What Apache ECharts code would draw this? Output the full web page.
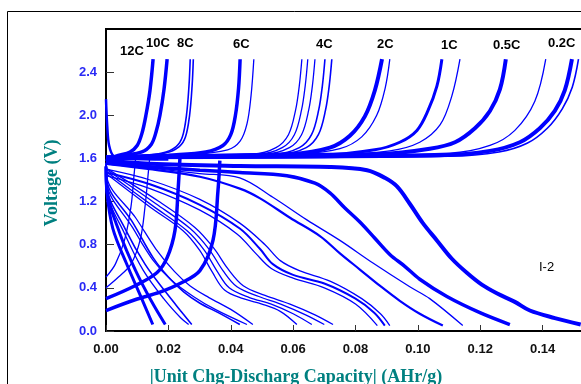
<!DOCTYPE html>
<html>
<head>
<meta charset="utf-8">
<script src="https://cdn.jsdelivr.net/npm/echarts@6/dist/echarts.min.js"></script>
<style>
html,body{margin:0;padding:0;background:#fff}
#chart{width:581px;height:384px}
</style>
</head>
<body>
<div id="chart"></div>
<script>
// tick labels
var xTicks = [0, 0.02, 0.04, 0.06, 0.08, 0.10, 0.12, 0.14, 0.16];
var yTicks = [0, 0.4, 0.8, 1.2, 1.6, 2.0, 2.4, 2.8];
var rateLabels = ['12C', '10C', '8C', '6C', '4C', '2C', '1C', '0.5C', '0.2C'];

// charge curves  [capacity AHr/g, voltage V]
var chg12C = [[0,1.57],[0.003,1.62],[0.0077,1.66],[0.0100,1.72],[0.0115,1.83],[0.0128,2.00],[0.0141,2.23],[0.0151,2.52]];
var chg10C = [[0,1.58],[0.0045,1.62],[0.0115,1.66],[0.0145,1.73],[0.0160,1.84],[0.0173,2.00],[0.0186,2.24],[0.0196,2.52]];
var chg8C = [[0,1.58],[0.0077,1.62],[0.0180,1.65],[0.0225,1.71],[0.0245,1.80],[0.0258,2.00],[0.0266,2.27],[0.0270,2.52]];
var chg8Cb = [[0,1.58],[0.0080,1.62],[0.0190,1.65],[0.0235,1.71],[0.0255,1.80],[0.0268,2.00],[0.0276,2.27],[0.0280,2.52]];
var chg6C = [[0,1.59],[0.0200,1.63],[0.0320,1.66],[0.0375,1.72],[0.0400,1.82],[0.0415,2.00],[0.0425,2.25],[0.0430,2.52]];
var chg6Cb = [[0,1.59],[0.0250,1.63],[0.0390,1.68],[0.0430,1.76],[0.0452,1.92],[0.0465,2.18],[0.0474,2.52]];
var chg4Ca = [[0,1.60],[0.0240,1.63],[0.0470,1.64],[0.0545,1.70],[0.0585,1.82],[0.0608,2.05],[0.0620,2.28],[0.0628,2.52]];
var chg4Cb = [[0,1.60],[0.0250,1.63],[0.0490,1.64],[0.0565,1.70],[0.0604,1.82],[0.0627,2.05],[0.0639,2.28],[0.0647,2.52]];
var chg4Cc = [[0,1.60],[0.0260,1.63],[0.0510,1.64],[0.0588,1.70],[0.0627,1.82],[0.0650,2.05],[0.0662,2.28],[0.0670,2.52]];
var chg4Cd = [[0,1.60],[0.0280,1.63],[0.0540,1.64],[0.0620,1.70],[0.0659,1.82],[0.0682,2.05],[0.0694,2.28],[0.0702,2.52]];
var chg4Ce = [[0,1.60],[0.0290,1.63],[0.0560,1.64],[0.0642,1.70],[0.0681,1.82],[0.0704,2.05],[0.0716,2.28],[0.0724,2.52]];
var chg2C = [[0,1.60],[0.0300,1.62],[0.0590,1.64],[0.0718,1.70],[0.0782,1.81],[0.0830,1.99],[0.0862,2.23],[0.0885,2.52]];
var chg2Cb = [[0,1.60],[0.0350,1.62],[0.0620,1.64],[0.0750,1.69],[0.0820,1.80],[0.0868,2.00],[0.0895,2.25],[0.0910,2.52]];
var chg1C = [[0,1.60],[0.0300,1.62],[0.0686,1.63],[0.0862,1.68],[0.0942,1.75],[0.0997,1.86],[0.1032,2.04],[0.1061,2.27],[0.1077,2.52]];
var chg1Cb = [[0,1.60],[0.0700,1.63],[0.0910,1.67],[0.1006,1.75],[0.1071,1.91],[0.1109,2.18],[0.1135,2.52]];
var chg05C = [[0,1.61],[0.0462,1.63],[0.0878,1.64],[0.1038,1.69],[0.1119,1.75],[0.1183,1.88],[0.1231,2.04],[0.1263,2.24],[0.1282,2.52]];
var chg05Cb = [[0,1.61],[0.1103,1.65],[0.1231,1.72],[0.1311,1.86],[0.1375,2.13],[0.1410,2.52]];
var chg02C = [[0,1.61],[0.0622,1.62],[0.1071,1.63],[0.1231,1.67],[0.1327,1.75],[0.1391,1.88],[0.1439,2.04],[0.1471,2.23],[0.1494,2.52]];
var chg02Cb = [[0,1.60],[0.1100,1.62],[0.1260,1.66],[0.1350,1.74],[0.1415,1.88],[0.1463,2.06],[0.1495,2.26],[0.1515,2.52]];
var chgFirst = [[0,2.15],[0.0004,1.90],[0.0010,1.72],[0.0025,1.62],[0.0060,1.60],[0.0200,1.59]];

// low-voltage start of charge
var rise6C = [[0,0.19],[0.0093,0.29],[0.0173,0.36],[0.0237,0.44],[0.0301,0.56],[0.0343,0.84],[0.0359,1.30],[0.0365,1.58]];
var rise8C = [[0,0.30],[0.0093,0.42],[0.0163,0.54],[0.0196,0.68],[0.0221,0.93],[0.0231,1.30],[0.0237,1.60]];
var rise10C = [[0,0.40],[0.0040,0.50],[0.0080,0.62],[0.0110,0.85],[0.0125,1.15],[0.0135,1.45],[0.0140,1.60]];
var rise12C = [[0,0.50],[0.0030,0.62],[0.0060,0.85],[0.0080,1.15],[0.0090,1.45],[0.0095,1.60]];

// discharge curves
var dis02C = [[0,1.58],[0.0141,1.55],[0.0429,1.53],[0.0718,1.52],[0.0837,1.49],[0.0894,1.42],[0.0933,1.34],[0.0974,1.18],[0.1016,1.00],[0.1061,0.84],[0.1109,0.67],[0.1157,0.54],[0.1205,0.43],[0.1253,0.35],[0.1311,0.27],[0.1359,0.19],[0.1439,0.12],[0.1522,0.06]];
var dis05C = [[0,1.56],[0.0150,1.52],[0.0301,1.49],[0.0429,1.47],[0.0580,1.44],[0.0670,1.37],[0.0718,1.28],[0.0766,1.14],[0.0814,1.01],[0.0862,0.86],[0.0910,0.71],[0.0958,0.60],[0.1006,0.48],[0.1093,0.32],[0.1199,0.17],[0.1295,0.06]];
var dis1C = [[0,1.55],[0.0141,1.50],[0.0301,1.43],[0.0429,1.32],[0.0494,1.23],[0.0590,1.05],[0.0686,0.88],[0.0750,0.72],[0.0814,0.57],[0.0878,0.42],[0.0942,0.28],[0.1006,0.16],[0.1080,0.05]];
var dis1Cb = [[0,1.55],[0.0173,1.50],[0.0301,1.46],[0.0429,1.42],[0.0535,1.24],[0.0644,1.03],[0.0750,0.84],[0.0856,0.63],[0.0974,0.41],[0.1038,0.30],[0.1144,0.05]];
var dis2C = [[0,1.47],[0.0141,1.36],[0.0301,1.17],[0.0429,0.95],[0.0494,0.76],[0.0535,0.62],[0.0600,0.52],[0.0700,0.44],[0.0800,0.30],[0.0860,0.17],[0.0894,0.05]];
var dis2Cb = [[0,1.50],[0.0141,1.40],[0.0301,1.22],[0.0429,1.00],[0.0510,0.80],[0.0560,0.65],[0.0620,0.56],[0.0720,0.46],[0.0820,0.30],[0.0880,0.16],[0.0910,0.05]];
var dis2Cc = [[0,1.44],[0.0141,1.32],[0.0301,1.12],[0.0420,0.90],[0.0480,0.72],[0.0530,0.58],[0.0600,0.49],[0.0700,0.40],[0.0800,0.25],[0.0870,0.05]];
var dis4Ca = [[0,1.46],[0.0141,1.15],[0.0247,0.93],[0.0300,0.75],[0.0340,0.55],[0.0380,0.38],[0.0440,0.30],[0.0500,0.25],[0.0560,0.18],[0.0612,0.06]];
var dis4Cb = [[0,1.48],[0.0150,1.16],[0.0260,0.93],[0.0315,0.75],[0.0355,0.56],[0.0395,0.40],[0.0460,0.31],[0.0530,0.25],[0.0600,0.16],[0.0660,0.06]];
var dis4Cc = [[0,1.50],[0.0160,1.18],[0.0270,0.95],[0.0330,0.76],[0.0375,0.56],[0.0420,0.41],[0.0490,0.32],[0.0560,0.25],[0.0640,0.15],[0.0700,0.06]];
var dis4Cd = [[0,1.51],[0.0170,1.20],[0.0285,0.96],[0.0345,0.77],[0.0390,0.58],[0.0440,0.42],[0.0510,0.33],[0.0590,0.25],[0.0670,0.15],[0.0728,0.06]];
var dis6Ca = [[0,1.56],[0.0003,1.39],[0.0087,1.00],[0.0151,0.68],[0.0200,0.50],[0.0250,0.36],[0.0300,0.26],[0.0360,0.17],[0.0429,0.06]];
var dis6Cb = [[0,1.56],[0.0003,1.42],[0.0095,1.05],[0.0160,0.76],[0.0220,0.55],[0.0269,0.42],[0.0330,0.31],[0.0400,0.20],[0.0471,0.06]];
var dis6Cc = [[0,1.55],[0.0003,1.36],[0.0085,0.96],[0.0150,0.66],[0.0210,0.47],[0.0280,0.32],[0.0350,0.20],[0.0452,0.06]];
var dis8Ca = [[0,1.55],[0.0003,1.33],[0.0061,0.95],[0.0125,0.62],[0.0189,0.37],[0.0247,0.16],[0.0275,0.06]];
var dis8Cb = [[0,1.54],[0.0003,1.30],[0.0060,0.90],[0.0120,0.56],[0.0185,0.30],[0.0240,0.12],[0.0265,0.06]];
var dis10C = [[0,1.53],[0.0003,1.30],[0.0045,0.90],[0.0095,0.56],[0.0145,0.28],[0.0190,0.06]];
var dis12C = [[0,1.52],[0.0003,1.28],[0.0022,0.95],[0.0065,0.63],[0.0110,0.33],[0.0150,0.06]];

var curves = [
  [chg12C, 3.5], [chg10C, 3.5], [chg8C, 1.6], [chg8Cb, 1.6], [chg6C, 3.5], [chg6Cb, 1.3],
  [chg4Ca, 1.3], [chg4Cb, 1.3], [chg4Cc, 1.3], [chg4Cd, 1.6], [chg4Ce, 1.6],
  [chg2C, 4], [chg2Cb, 1.3], [chg1C, 3], [chg1Cb, 1.3], [chg05C, 4], [chg05Cb, 1.3],
  [chg02C, 4], [chg02Cb, 1.6], [chgFirst, 2.5],
  [rise6C, 3.5], [rise8C, 3.5], [rise10C, 1.3], [rise12C, 1.3],
  [dis02C, 4], [dis05C, 3.5], [dis1C, 2.2], [dis1Cb, 1.3], [dis2C, 2], [dis2Cb, 1.3], [dis2Cc, 1.3],
  [dis4Ca, 1.3], [dis4Cb, 1.3], [dis4Cc, 1.3], [dis4Cd, 1.3],
  [dis6Ca, 1.6], [dis6Cb, 1.3], [dis6Cc, 1.3], [dis8Ca, 1.6], [dis8Cb, 1.3], [dis10C, 3], [dis12C, 3]
];

// label positions in px (left, middle)
var labelPos = [[120,52],[146,44],[177,44],[233,45],[316,45],[377,45],[441,46],[493,46],[548,44]];

var chart = echarts.init(document.getElementById('chart'));

var series = curves.map(function (c) {
  return {
    type: 'line',
    data: c[0],
    showSymbol: false,
    smooth: 0.35,
    clip: true,
    lineStyle: { color: '#0000ff', width: c[1] }
  };
});

var graphics = rateLabels.map(function (t, i) {
  return {
    type: 'text', left: labelPos[i][0], top: labelPos[i][1] - 7,
    style: { text: t, fill: '#000', font: 'bold 13px "Liberation Sans", Arial, sans-serif' }
  };
});
graphics.push({
  type: 'text', left: 539, top: 261,
  style: { text: 'I-2', fill: '#000', font: '13px "Liberation Sans", Arial, sans-serif' }
});
graphics.push({
  type: 'text', x: 52, y: 183, rotation: Math.PI / 2,
  style: { text: 'Voltage (V)', fill: '#008080', align: 'center', verticalAlign: 'middle',
    font: 'bold 18px "Liberation Serif", "Times New Roman", serif' }
});
graphics.push({
  type: 'text', x: 296, y: 368,
  style: { text: '|Unit Chg-Discharg Capacity| (AHr/g)', fill: '#008080', align: 'center', verticalAlign: 'top',
    font: 'bold 18px "Liberation Serif", "Times New Roman", serif' }
});
graphics.push({
  type: 'rect', shape: { x: 7.5, y: 11.5, width: 700, height: 500 },
  style: { fill: 'none', stroke: '#000', lineWidth: 1 }, silent: true
});

chart.setOption({
  animation: false,
  grid: { left: 106, top: 29, width: 499, bottom: 53, outerBoundsMode: 'none', containLabel: false,
    show: true, borderColor: '#000', borderWidth: 2 },
  xAxis: {
    type: 'value', min: xTicks[0], max: xTicks[xTicks.length - 1], interval: 0.02,
    axisLine: { show: true, lineStyle: { color: '#000', width: 2 } },
    axisTick: { show: true, inside: true, length: 6, lineStyle: { color: '#333' } },
    axisLabel: { color: '#111', fontWeight: 'bold', fontSize: 13, margin: 12,
      fontFamily: '"Liberation Sans", Arial, sans-serif',
      formatter: function (v) { return v.toFixed(2); } },
    splitLine: { show: false }
  },
  yAxis: {
    type: 'value', min: yTicks[0], max: yTicks[yTicks.length - 1], interval: 0.4,
    axisLine: { show: true, lineStyle: { color: '#000', width: 2 } },
    axisTick: { show: true, inside: true, length: 8, lineStyle: { color: '#333' } },
    axisLabel: { color: '#2a2af5', fontWeight: 'bold', fontSize: 13, margin: 9, showMaxLabel: false,
      fontFamily: '"Liberation Sans", Arial, sans-serif',
      formatter: function (v) { return v.toFixed(1); } },
    splitLine: { show: false }
  },
  graphic: graphics,
  series: series
});
</script>
</body>
</html>
